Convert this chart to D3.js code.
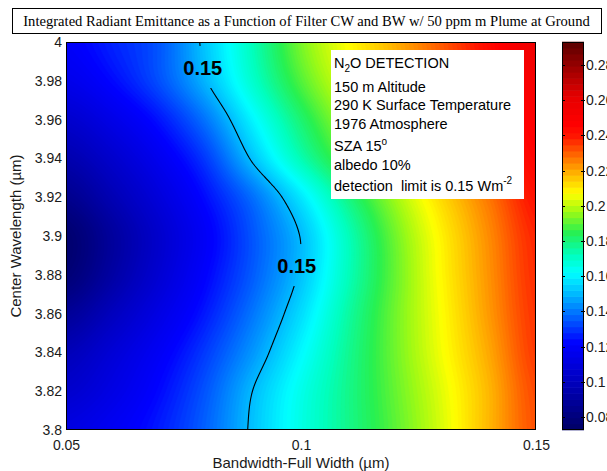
<!DOCTYPE html>
<html><head><meta charset="utf-8">
<script src="https://cdn.jsdelivr.net/npm/d3@7"></script>
<style>body{margin:0;background:#fff} svg{display:block}</style>
</head><body>
<svg id="chart" width="607" height="471"></svg>
<script>
// ---------------- data ----------------
const bandwidths  = [0.05, 0.06, 0.07, 0.08, 0.09, 0.10, 0.11, 0.12, 0.13, 0.14, 0.15];
const wavelengths = [3.80, 3.82, 3.84, 3.86, 3.88, 3.90, 3.92, 3.94, 3.96, 3.98, 4.00];
// integrated radiant emittance (W m^-2), one row per centre wavelength, one value per bandwidth
const emit380 = [0.112, 0.118, 0.126, 0.137, 0.152, 0.166, 0.178, 0.190, 0.203, 0.218, 0.232];
const emit382 = [0.105, 0.113, 0.123, 0.135, 0.1505,0.165, 0.178, 0.191, 0.204, 0.218, 0.233];
const emit384 = [0.098, 0.108, 0.119, 0.131, 0.145, 0.161, 0.177, 0.192, 0.206, 0.220, 0.235];
const emit386 = [0.088, 0.100, 0.113, 0.126, 0.140, 0.156, 0.175, 0.192, 0.207, 0.222, 0.236];
const emit388 = [0.078, 0.092, 0.107, 0.122, 0.136, 0.1515,0.172, 0.191, 0.208, 0.223, 0.237];
const emit390 = [0.076, 0.090, 0.105, 0.120, 0.135, 0.1505,0.172, 0.192, 0.209, 0.224, 0.238];
const emit392 = [0.085, 0.097, 0.110, 0.124, 0.139, 0.158, 0.179, 0.197, 0.213, 0.227, 0.241];
const emit394 = [0.095, 0.105, 0.117, 0.131, 0.152, 0.173, 0.191, 0.206, 0.220, 0.233, 0.245];
const emit396 = [0.105, 0.114, 0.125, 0.140, 0.161, 0.181, 0.198, 0.211, 0.223, 0.236, 0.248];
const emit398 = [0.115, 0.123, 0.134, 0.150, 0.170, 0.189, 0.204, 0.216, 0.228, 0.240, 0.252];
const emit400 = [0.120, 0.127, 0.135, 0.153, 0.173, 0.193, 0.207, 0.219, 0.231, 0.243, 0.256];
const emittance = [emit380, emit382, emit384, emit386, emit388, emit390, emit392, emit394, emit396, emit398, emit400];

const xTicks = [0.05, 0.1, 0.15];
const yTicks = [3.8, 3.82, 3.84, 3.86, 3.88, 3.9, 3.92, 3.94, 3.96, 3.98, 4];
const colorTicks = [0.08, 0.1, 0.12, 0.14, 0.16, 0.18, 0.2, 0.22, 0.24, 0.26, 0.28];
const colorLimits = [0.0726, 0.2931];
const contourLevel = 0.15;
const contourLabels = [{x: 0.0791, y: 3.9866, text: "0.15"}, {x: 0.0991, y: 3.8845, text: "0.15"}];
const titleText = "Integrated Radiant Emittance as a Function of Filter CW and BW w/ 50 ppm m Plume at Ground";
const xLabel = "Bandwidth-Full Width (\u00b5m)";
const yLabel = "Center Wavelength (\u00b5m)";

// colormap stops (value -> colour)
const cmapVals = [0.0726, 0.100, 0.122, 0.140, 0.150, 0.162, 0.172, 0.185, 0.197, 0.207, 0.217, 0.228, 0.240, 0.246, 0.262, 0.2931];
const cmapCols = ["#000064", "#0000be", "#0000ff", "#0078ff", "#00b9ff", "#00ffff", "#00ffbe", "#28f050",
                  "#a0fa14", "#ffff00", "#ffbe00", "#ff6e00", "#ff1400", "#ff0000", "#e60000", "#5a0000"];
const nColors = 64;      // colour-bar steps
const nFieldLevels = 200; // shading steps in the image

// ---------------- layout ----------------
const svg = d3.select("#chart");
const L = 66, R = 536, T = 42, B = 430;
const x = d3.scaleLinear().domain([0.05, 0.15]).range([L, R]);
const y = d3.scaleLinear().domain([3.8, 4.0]).range([B, T]);
const cmap = d3.scaleLinear().domain(cmapVals).range(cmapCols).interpolate(d3.interpolateRgb).clamp(true);
const step = (colorLimits[1] - colorLimits[0]) / nColors;
const levels = d3.range(nColors).map(k => colorLimits[0] + k * step);
const levelColor = k => cmap(colorLimits[0] + (k + 0.5) * step);
const fstep = (colorLimits[1] - colorLimits[0]) / nFieldLevels;
const fieldLevels = d3.range(nFieldLevels).map(k => colorLimits[0] + k * fstep);
const fieldColor = k => cmap(colorLimits[0] + (k + 0.5) * fstep);

// smooth (Catmull-Rom) interpolation of the table onto a finer grid for shading
function cr(p0, p1, p2, p3, t) {
  return 0.5 * (2 * p1 + (-p0 + p2) * t + (2 * p0 - 5 * p1 + 4 * p2 - p3) * t * t + (-p0 + 3 * p1 - 3 * p2 + p3) * t * t * t);
}
function valueAt(bx, wy) {
  const nx = bandwidths.length, ny = wavelengths.length;
  let i = Math.floor((bx - bandwidths[0]) / (bandwidths[1] - bandwidths[0]));
  let j = Math.floor((wy - wavelengths[0]) / (wavelengths[1] - wavelengths[0]));
  i = Math.max(0, Math.min(nx - 2, i)); j = Math.max(0, Math.min(ny - 2, j));
  const tx = (bx - bandwidths[i]) / (bandwidths[i + 1] - bandwidths[i]);
  const ty = (wy - wavelengths[j]) / (wavelengths[j + 1] - wavelengths[j]);
  const ci = k => Math.max(0, Math.min(nx - 1, k));
  const cj = k => Math.max(0, Math.min(ny - 1, k));
  const rows = [-1, 0, 1, 2].map(dj => {
    const row = emittance[cj(j + dj)];
    return cr(row[ci(i - 1)], row[ci(i)], row[ci(i + 1)], row[ci(i + 2)], tx);
  });
  return cr(rows[0], rows[1], rows[2], rows[3], ty);
}
const GX = 236, GY = 195;
const x0 = bandwidths[0], x1 = bandwidths[bandwidths.length - 1];
const y0 = wavelengths[0], y1 = wavelengths[wavelengths.length - 1];
const sx = (x1 - x0) / (GX - 1), sy = (y1 - y0) / (GY - 1);
const grid = new Array(GX * GY);
for (let r = 0; r < GY; r++) {
  const wy = y1 - r * sy;
  for (let c = 0; c < GX; c++) grid[r * GX + c] = valueAt(x0 + c * sx, wy);
}
const proj = d3.geoTransform({
  point(px, py) { this.stream.point(x(x0 + (px - 0.5) * sx), y(y1 - (py - 0.5) * sy)); }
});
const path = d3.geoPath(proj);

svg.append("defs").append("clipPath").attr("id", "plotclip")
  .append("rect").attr("x", L).attr("y", T).attr("width", R - L).attr("height", B - T);

const plot = svg.append("g").attr("clip-path", "url(#plotclip)");
plot.append("rect").attr("x", L).attr("y", T).attr("width", R - L).attr("height", B - T).attr("fill", fieldColor(0));
const bands = d3.contours().size([GX, GY]).thresholds(fieldLevels)(grid);
plot.selectAll("path.band").data(bands).join("path")
  .attr("class", "band").attr("d", path)
  .attr("fill", (d, k) => fieldColor(k)).attr("stroke", (d, k) => fieldColor(k)).attr("stroke-width", 0.6);

// contour line with gaps at the labels
const mask = svg.select("defs").append("mask").attr("id", "labelmask");
mask.append("rect").attr("x", 0).attr("y", 0).attr("width", 607).attr("height", 471).attr("fill", "white");
mask.selectAll("rect.gap").data(contourLabels).join("rect").attr("class", "gap")
  .attr("x", d => x(d.x) - 26).attr("y", d => y(d.y) - 22).attr("width", 52).attr("height", 42).attr("fill", "black");
const line = d3.contours().size([GX, GY]).thresholds([contourLevel])(grid);
plot.append("g").attr("mask", "url(#labelmask)")
  .selectAll("path").data(line).join("path").attr("d", path)
  .attr("fill", "none").attr("stroke", "#000").attr("stroke-width", 1.1);
plot.selectAll("text.clabel").data(contourLabels).join("text").attr("class", "clabel")
  .attr("x", d => x(d.x)).attr("y", d => y(d.y)).attr("text-anchor", "middle").attr("dominant-baseline", "central")
  .attr("font-family", "Liberation Sans, Arial, sans-serif").attr("font-weight", "bold").attr("font-size", 20)
  .text(d => d.text);

// annotation box
const note = svg.append("g");
note.append("rect").attr("x", 331).attr("y", 50).attr("width", 193).attr("height", 149).attr("fill", "#fff");
const nf = "Liberation Sans, Arial, sans-serif";
const noteText = note.append("text").attr("font-family", nf).attr("font-size", 14.5).attr("fill", "#000");
function lineAt(yy) { return noteText.append("tspan").attr("x", 334).attr("y", yy); }
lineAt(68).text("N"); noteText.append("tspan").attr("font-size", 10).attr("dy", 4).text("2");
noteText.append("tspan").attr("dy", -4).text("O DETECTION");
lineAt(92).text("150 m Altitude");
lineAt(110).text("290 K Surface Temperature");
lineAt(129).text("1976 Atmosphere");
lineAt(151).text("SZA 15");
noteText.append("tspan").attr("font-size", 10).attr("dy", -6).text("o");
lineAt(170).text("albedo 10%");
lineAt(191).text("detection\u00a0\u00a0limit is 0.15 Wm");
noteText.append("tspan").attr("font-size", 10).attr("dy", -7).text("-2");

// axes box
svg.append("rect").attr("x", L + 0.5).attr("y", T + 0.5).attr("width", R - L - 1).attr("height", B - T - 1)
  .attr("fill", "none").attr("stroke", "#000").attr("stroke-width", 1);

const fam = "Liberation Sans, Arial, sans-serif";
const xa = svg.append("g").attr("transform", `translate(0,${B})`)
  .call(d3.axisBottom(x).tickValues(xTicks).tickSize(0).tickPadding(10).tickFormat(d => String(d)));
const ya = svg.append("g").attr("transform", `translate(${L},0)`)
  .call(d3.axisLeft(y).tickValues(yTicks).tickSize(0).tickPadding(4).tickFormat(d => String(d)));
[xa, ya].forEach(g => {
  g.select(".domain").remove();
  g.selectAll("text").attr("font-family", fam).attr("font-size", 14).attr("fill", "#1a1a1a");
});

svg.append("text").attr("x", (L + R) / 2).attr("y", 468).attr("text-anchor", "middle")
  .attr("font-family", fam).attr("font-size", 15).attr("fill", "#1a1a1a").text(xLabel);
svg.append("text").attr("transform", `translate(21,${(T + B) / 2}) rotate(-90)`).attr("text-anchor", "middle")
  .attr("font-family", fam).attr("font-size", 15).attr("fill", "#1a1a1a").text(yLabel);

// colorbar
const CL = 562, CR = 584;
const cy = d3.scaleLinear().domain(colorLimits).range([B, T]);
const cb = svg.append("g");
cb.selectAll("rect.cb").data(levels).join("rect").attr("class", "cb")
  .attr("x", CL).attr("width", CR - CL)
  .attr("y", d => cy(d + step) - 0.3).attr("height", d => cy(d) - cy(d + step) + 0.6)
  .attr("fill", (d, k) => levelColor(k));
cb.append("rect").attr("x", CL + 0.5).attr("y", T + 0.5).attr("width", CR - CL - 1).attr("height", B - T - 1)
  .attr("fill", "none").attr("stroke", "#000");
const ct = cb.selectAll("g.ct").data(colorTicks).join("g").attr("class", "ct")
  .attr("transform", d => `translate(0,${Math.round(cy(d)) + 0.5})`);
ct.append("line").attr("x1", CL).attr("x2", CL + 3).attr("stroke", "#000");
ct.append("line").attr("x1", CR - 3).attr("x2", CR + 1).attr("stroke", "#000");
ct.append("text").attr("x", CR + 2).attr("dy", "0.35em").attr("font-family", fam).attr("font-size", 14)
  .attr("fill", "#1a1a1a").text(d => String(d));

// title
svg.append("rect").attr("x", 12.5).attr("y", 8.5).attr("width", 589).attr("height", 25)
  .attr("fill", "#fff").attr("stroke", "#000");
const title = svg.append("text").attr("x", 306.5).attr("y", 26).attr("text-anchor", "middle")
  .attr("font-family", "Liberation Serif, Times New Roman, serif").attr("font-size", 15).attr("fill", "#000").text(titleText);
const tl = title.node().getComputedTextLength();
title.attr("font-size", 15 * 567 / tl);
</script>
</body></html>
